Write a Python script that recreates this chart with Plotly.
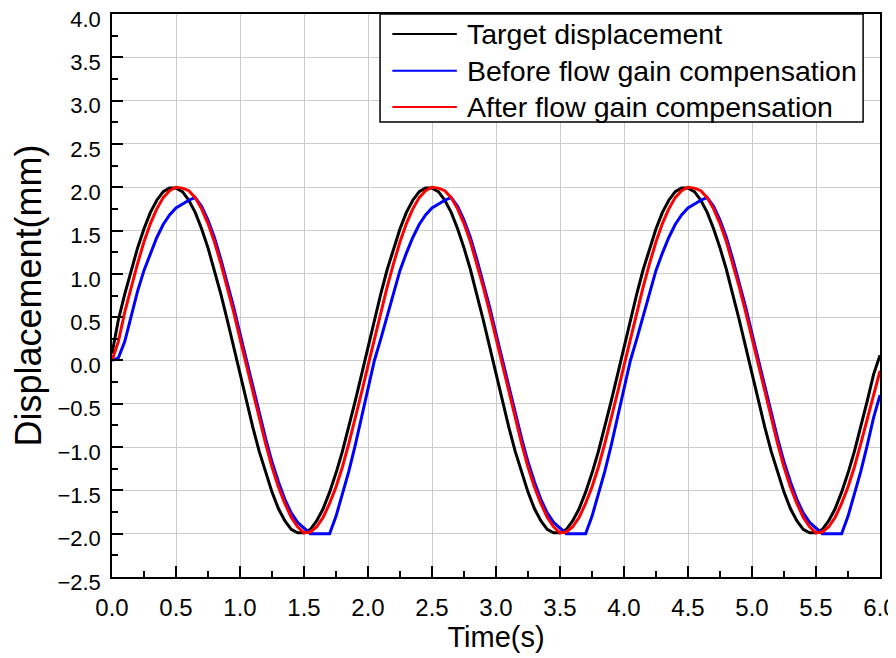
import plotly.graph_objects as go

# time axis (s)
time_s = [
    0.00, 0.05, 0.10, 0.15, 0.20, 0.25, 0.30, 0.35, 0.40, 0.45,
    0.50, 0.55, 0.60, 0.65, 0.70, 0.75, 0.80, 0.85, 0.90, 0.95,
    1.00, 1.05, 1.10, 1.15, 1.20, 1.25, 1.30, 1.35, 1.40, 1.45,
    1.50, 1.55, 1.60, 1.65, 1.70, 1.75, 1.80, 1.85, 1.90, 1.95,
    2.00, 2.05, 2.10, 2.15, 2.20, 2.25, 2.30, 2.35, 2.40, 2.45,
    2.50, 2.55, 2.60, 2.65, 2.70, 2.75, 2.80, 2.85, 2.90, 2.95,
    3.00, 3.05, 3.10, 3.15, 3.20, 3.25, 3.30, 3.35, 3.40, 3.45,
    3.50, 3.55, 3.60, 3.65, 3.70, 3.75, 3.80, 3.85, 3.90, 3.95,
    4.00, 4.05, 4.10, 4.15, 4.20, 4.25, 4.30, 4.35, 4.40, 4.45,
    4.50, 4.55, 4.60, 4.65, 4.70, 4.75, 4.80, 4.85, 4.90, 4.95,
    5.00, 5.05, 5.10, 5.15, 5.20, 5.25, 5.30, 5.35, 5.40, 5.45,
    5.50, 5.55, 5.60, 5.65, 5.70, 5.75, 5.80, 5.85, 5.90, 5.95,
    6.00,
]

# target displacement (mm)
target_mm = [
    0.08, 0.47, 0.77, 1.05, 1.30, 1.52, 1.71, 1.85, 1.95, 1.99,
    1.99, 1.95, 1.85, 1.71, 1.52, 1.30, 1.05, 0.77, 0.47, 0.16,
    -0.16, -0.47, -0.77, -1.05, -1.30, -1.52, -1.71, -1.85, -1.95, -1.99,
    -1.99, -1.95, -1.85, -1.71, -1.52, -1.30, -1.05, -0.77, -0.47, -0.16,
    0.16, 0.47, 0.77, 1.05, 1.30, 1.52, 1.71, 1.85, 1.95, 1.99,
    1.99, 1.95, 1.85, 1.71, 1.52, 1.30, 1.05, 0.77, 0.47, 0.16,
    -0.16, -0.47, -0.77, -1.05, -1.30, -1.52, -1.71, -1.85, -1.95, -1.99,
    -1.99, -1.95, -1.85, -1.71, -1.52, -1.30, -1.05, -0.77, -0.47, -0.16,
    0.16, 0.47, 0.77, 1.05, 1.30, 1.52, 1.71, 1.85, 1.95, 1.99,
    1.99, 1.95, 1.85, 1.71, 1.52, 1.30, 1.05, 0.77, 0.47, 0.16,
    -0.16, -0.47, -0.77, -1.05, -1.30, -1.52, -1.71, -1.85, -1.95, -1.99,
    -1.99, -1.95, -1.85, -1.71, -1.52, -1.30, -1.05, -0.77, -0.47, -0.16,
    0.06,
]

# before flow gain compensation (mm)
before_mm = [
    0.00, 0.03, 0.22, 0.52, 0.80, 1.04, 1.24, 1.42, 1.57, 1.68,
    1.76, 1.81, 1.85, 1.88, 1.78, 1.62, 1.42, 1.17, 0.90, 0.62,
    0.31, 0.00, -0.31, -0.62, -0.90, -1.17, -1.40, -1.60, -1.76, -1.87,
    -1.94, -2.00, -2.00, -2.00, -2.00, -1.80, -1.55, -1.28, -0.98, -0.66,
    -0.33, 0.00, 0.25, 0.52, 0.80, 1.04, 1.24, 1.42, 1.57, 1.68,
    1.76, 1.81, 1.85, 1.88, 1.78, 1.62, 1.42, 1.17, 0.90, 0.62,
    0.31, 0.00, -0.31, -0.62, -0.90, -1.17, -1.40, -1.60, -1.76, -1.87,
    -1.94, -2.00, -2.00, -2.00, -2.00, -1.80, -1.55, -1.28, -0.98, -0.66,
    -0.33, 0.00, 0.25, 0.52, 0.80, 1.04, 1.24, 1.42, 1.57, 1.68,
    1.76, 1.81, 1.85, 1.88, 1.78, 1.62, 1.42, 1.17, 0.90, 0.62,
    0.31, 0.00, -0.31, -0.62, -0.90, -1.17, -1.40, -1.60, -1.76, -1.87,
    -1.94, -2.00, -2.00, -2.00, -2.00, -1.80, -1.55, -1.28, -0.98, -0.66,
    -0.40,
]

# after flow gain compensation (mm)
after_mm = [
    0.00, 0.22, 0.56, 0.85, 1.12, 1.37, 1.58, 1.75, 1.88, 1.96,
    2.00, 1.99, 1.96, 1.88, 1.75, 1.58, 1.37, 1.12, 0.85, 0.56,
    0.25, -0.06, -0.37, -0.68, -0.96, -1.23, -1.46, -1.65, -1.81, -1.92,
    -1.99, -1.98, -1.92, -1.81, -1.65, -1.46, -1.23, -0.96, -0.68, -0.37,
    -0.06, 0.25, 0.56, 0.85, 1.12, 1.37, 1.58, 1.75, 1.88, 1.96,
    2.00, 1.99, 1.96, 1.88, 1.75, 1.58, 1.37, 1.12, 0.85, 0.56,
    0.25, -0.06, -0.37, -0.68, -0.96, -1.23, -1.46, -1.65, -1.81, -1.92,
    -1.99, -1.98, -1.92, -1.81, -1.65, -1.46, -1.23, -0.96, -0.68, -0.37,
    -0.06, 0.25, 0.56, 0.85, 1.12, 1.37, 1.58, 1.75, 1.88, 1.96,
    2.00, 1.99, 1.96, 1.88, 1.75, 1.58, 1.37, 1.12, 0.85, 0.56,
    0.25, -0.06, -0.37, -0.68, -0.96, -1.23, -1.46, -1.65, -1.81, -1.92,
    -1.99, -1.98, -1.92, -1.81, -1.65, -1.46, -1.23, -0.96, -0.68, -0.37,
    -0.12,
]

series = [
    ("Target displacement", target_mm, "#000000"),
    ("Before flow gain compensation", before_mm, "#0000ff"),
    ("After flow gain compensation", after_mm, "#ff0000"),
]

FONT = "Liberation Sans, Arial, sans-serif"

fig = go.Figure()
for name, ys, color in series:
    fig.add_trace(
        go.Scatter(
            x=time_s,
            y=ys,
            mode="lines",
            name=name,
            line=dict(color=color, width=3),
            showlegend=False,
        )
    )

# hand-drawn legend box (long line samples like the original)
fig.add_shape(
    type="rect", xref="paper", yref="paper",
    x0=0.349, x1=0.978, y0=0.808, y1=1.0,
    fillcolor="white", line=dict(color="black", width=1.5),
)
legend_rows = [0.9645, 0.899, 0.835]
for (name, _, color), ly in zip(series, legend_rows):
    fig.add_shape(
        type="line", xref="paper", yref="paper",
        x0=0.365, x1=0.449, y0=ly, y1=ly,
        line=dict(color=color, width=2),
    )
    fig.add_annotation(
        x=0.459, y=ly, xref="paper", yref="paper",
        text=name, showarrow=False, xanchor="left", yanchor="middle",
        font=dict(family=FONT, size=28.5, color="black"),
    )

axis_common = dict(
    automargin=False,
    showline=True,
    linecolor="black",
    linewidth=1.5,
    mirror=True,
    ticks="inside",
    ticklen=11,
    tickwidth=1.5,
    tickcolor="black",
    showgrid=True,
    gridcolor="#cccccc",
    gridwidth=1,
    zeroline=False,
    tickformat=".1f",
    tick0=0,
    dtick=0.5,
    ticklabeloverflow="allow",
    minor=dict(dtick=0.25, ticks="inside", ticklen=6, tickcolor="black", tickwidth=1.5, showgrid=False),
)

fig.update_xaxes(
    range=[0, 6],
    ticklabelstandoff=8,
    tickfont=dict(family=FONT, size=24, color="black"),
    title=dict(text="Time(s)", font=dict(family=FONT, size=29, color="black"), standoff=4),
    **axis_common,
)
fig.update_yaxes(
    range=[-2.5, 4],
    ticklabelstandoff=5,
    ticklabelshift=5,
    tickfont=dict(family=FONT, size=22, color="black"),
    title=dict(text="Displacement(mm)", font=dict(family=FONT, size=36, color="black"), standoff=34),
    **axis_common,
)

# the page sits 8px in from the window's top-left corner
fig.update_layout(
    width=888,
    height=650,
    margin=dict(l=104, r=16, t=6, b=81),
    plot_bgcolor="white",
    paper_bgcolor="white",
    font_family=FONT,
)

fig.write_html("out.html")
